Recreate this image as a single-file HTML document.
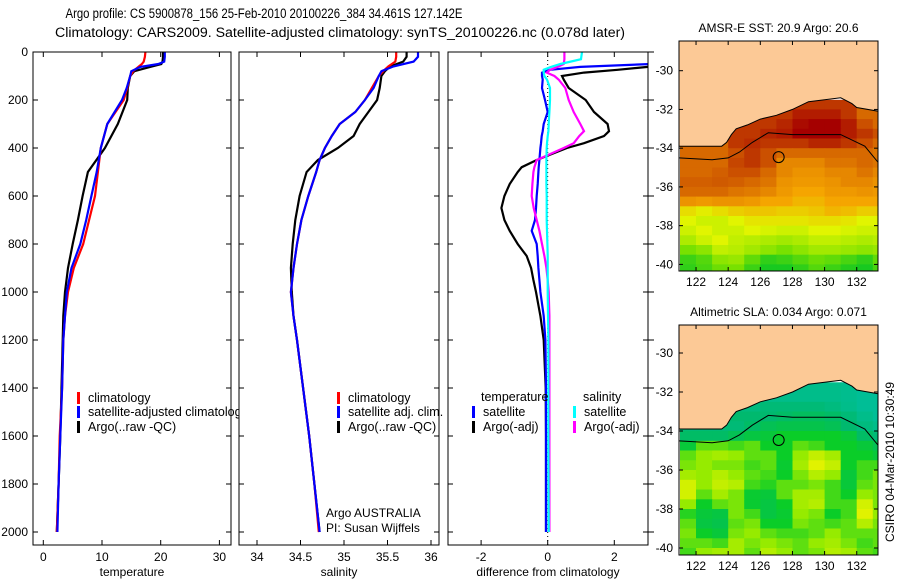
<!DOCTYPE html>
<html><head><meta charset="utf-8"><style>
body{margin:0;background:#fff;}
svg{display:block;font-family:"Liberation Sans",sans-serif;}
text{fill:#000;}
</style></head><body>
<svg id="c" width="900" height="580" viewBox="0 0 900 580" xmlns="http://www.w3.org/2000/svg">
<text x="264" y="18" font-size="13.5" textLength="397" lengthAdjust="spacingAndGlyphs" text-anchor="middle">Argo profile: CS 5900878_156 25-Feb-2010 20100226_384 34.461S 127.142E</text>
<text x="340" y="37" font-size="13.5" textLength="570" lengthAdjust="spacingAndGlyphs" text-anchor="middle">Climatology: CARS2009. Satellite-adjusted climatology: synTS_20100226.nc (0.078d later)</text>
<g id="g"></g>
</svg>
<script>
// ---------- data ----------
var tDepth=[0,20,40,50,62,80,100,150,200,300,400,500,600,700,800,900,1000,1100,1200,1400,1600,1800,2000];
var tClim =[17.4,17.3,17.1,16.8,16.2,15.3,14.8,14.3,13.7,10.9,9.8,9.3,8.8,7.8,6.8,5.2,4.2,3.7,3.4,3.2,2.8,2.6,2.3];
var tSat  =[20.7,20.7,20.6,19.6,16.5,15.0,14.8,14.2,13.4,10.9,9.8,9.1,8.2,7.3,6.3,4.8,4.0,3.7,3.4,3.2,2.9,2.6,2.4];
var tArgo =[20.4,20.4,20.3,20.1,18.2,15.5,14.8,14.4,14.3,12.7,10.5,7.6,6.7,5.9,5.0,4.2,3.7,3.4,3.3,3.1,2.9,2.6,2.3];
var sDepth=[0,20,40,60,80,100,150,200,250,300,350,400,450,500,600,700,800,900,1000,1100,1200,1400,1600,1800,2000];
var sClim =[35.60,35.60,35.59,35.51,35.45,35.40,35.32,35.24,35.13,34.95,34.86,34.78,34.72,34.68,34.59,34.51,34.46,34.42,34.39,34.42,34.46,34.53,34.60,34.66,34.71];
var sSat  =[35.85,35.85,35.80,35.57,35.43,35.40,35.34,35.24,35.13,34.95,34.86,34.78,34.72,34.68,34.59,34.51,34.46,34.42,34.39,34.42,34.46,34.53,34.60,34.66,34.72];
var sArgo =[35.72,35.72,35.68,35.53,35.47,35.43,35.41,35.38,35.28,35.18,35.11,34.93,34.70,34.57,34.49,34.44,34.41,34.39,34.40,34.42,34.46,34.53,34.60,34.66,34.72];
var dDepth=[0,30,50,62,74,86,100,115,150,200,250,300,330,350,380,400,450,480,500,550,600,650,700,745,800,850,900,950,1000,1100,1200,1400,1600,2000];
var dTSat =[3.4,3.4,3.1,0.98,0.07,-0.17,-0.17,-0.15,-0.17,-0.08,0,-0.12,-0.15,-0.18,-0.2,-0.22,-0.25,-0.27,-0.28,-0.3,-0.33,-0.35,-0.38,-0.48,-0.33,-0.3,-0.28,-0.25,-0.22,-0.12,-0.07,-0.05,-0.05,-0.05];
var dTArgo=[3.2,3.2,3.1,3.0,2.1,1.09,0.43,0.48,0.63,1.14,1.39,1.8,1.84,1.69,1.09,0.58,-0.33,-0.78,-0.9,-1.14,-1.3,-1.39,-1.3,-1.14,-0.9,-0.63,-0.5,-0.43,-0.35,-0.22,-0.12,-0.06,-0.05,-0.05];
var dSArgo=[0.5,0.5,0.48,0.3,0.07,-0.03,0.2,0.33,0.53,0.63,0.78,0.98,1.09,0.95,0.78,0.48,-0.33,-0.4,-0.43,-0.46,-0.48,-0.42,-0.33,-0.25,-0.17,-0.1,-0.04,0,0.03,0.05,0.05,0.05,0.05,0.05];
var dSSat =[1.03,1.0,0.38,0.1,-0.12,-0.12,-0.1,-0.02,0.07,0.07,0.05,0.03,0.02,0,-0.02,-0.03,-0.04,-0.04,-0.04,-0.04,-0.03,-0.03,-0.03,-0.02,-0.01,0,0,0,0,0.01,0.02,0.02,0.02,0.03];
var depthTicks=[0,200,400,600,800,1000,1200,1400,1600,1800,2000];
var tTicks=[0,10,20,30], sTicks=[34,34.5,35,35.5,36], dTicks=[-2,0,2];
var lonTicks=[122,124,126,128,130,132], latTicks=[-30,-32,-34,-36,-38,-40];
var gridLons=[121,122,123,124,125,126,127,128,129,130,131,132,133];
var gridLats=[-31.5,-32,-32.5,-33,-33.5,-34,-34.5,-35,-35.5,-36,-36.5,-37,-37.5,-38,-38.5,-39,-39.5,-40];
var sst=[
[22,22,22,22,22,22,22,22,22,22,22,21,21],
[22,22,22,22,22,22,22,22.5,22.5,22.5,22,21,21],
[22,22,22,22,22,22,22.3,22.8,23,23,22.5,21.5,21],
[21,21,21,22,22,22.3,22.5,23,23,23,22.5,22,21.5],
[21,21,21,22,22.2,22,22,22,22.3,22.3,22,21.5,21],
[21,21,21,21.5,22,21.5,21,21,21,21,21,21,20.8],
[21,21,21,21.7,22,21.5,20.5,20.5,20.5,20.8,20.8,21,20.8],
[21,21,21.2,21.5,21.5,21,20.5,20.3,20.3,20.5,20.5,20.8,20.5],
[21.2,21.2,21.3,21.2,21,20.8,20.3,20.2,20.2,20.3,20.5,20.5,20.3],
[21,21,21,20.8,20.7,20.5,20.2,20,20,20.2,20.2,20.3,20.2],
[20.3,20.2,20.3,20.3,20.2,20,20,19.8,19.8,20,20,20,20],
[19.3,19.1,19.3,19.5,19.6,19.6,19.5,19.5,19.6,19.8,19.7,19.5,19.5],
[19,18.8,18.8,19,19.2,19.2,19.2,19.2,19.3,19.3,19.2,19,19],
[18.8,19,18.8,18.8,19,18.9,18.8,18.8,19,19,18.9,18.8,18.8],
[18.5,18.8,19,18.7,18.6,18.5,18.4,18.5,18.7,18.7,18.6,18.5,18.6],
[18,18.2,18.7,18.6,18.4,18.2,18,18.2,18.4,18.4,18.3,18.2,18.3],
[17.5,17.7,18.2,18.3,17.8,17.4,17.5,17.7,17.9,17.8,17.6,17.4,17.8],
[17.4,17.6,17.9,18,17.5,17.2,17.2,17.4,17.7,17.5,17.3,17.2,17.6]];
var sla=[
[-0.15,-0.15,-0.15,-0.15,-0.15,-0.15,-0.15,-0.15,-0.15,-0.15,-0.16,-0.18,-0.18],
[-0.15,-0.15,-0.15,-0.15,-0.15,-0.15,-0.15,-0.15,-0.15,-0.15,-0.16,-0.18,-0.18],
[-0.12,-0.12,-0.12,-0.12,-0.12,-0.1,-0.1,-0.1,-0.1,-0.12,-0.15,-0.18,-0.18],
[-0.1,-0.1,-0.1,-0.08,-0.08,-0.08,-0.07,-0.06,-0.06,-0.07,-0.1,-0.15,-0.18],
[-0.1,-0.1,-0.1,-0.1,-0.07,-0.05,-0.04,-0.04,-0.04,-0.05,-0.08,-0.12,-0.15],
[-0.07,-0.07,-0.07,-0.05,-0.03,-0.02,0,0,0,0,-0.02,-0.07,-0.1],
[-0.02,0.03,0.03,0.02,0.03,0,0,0.03,0.02,0,0,-0.02,-0.05],
[0.03,0.05,0.06,0.05,0.03,0.03,0,0.05,0.08,0.06,0,0,-0.02],
[0.04,0.05,0.04,0.04,0.02,0.03,-0.01,0.06,0.1,0.08,0,0.02,0.02],
[0.06,0.05,0.07,0.05,0.03,0.02,0,0.04,0.07,0.05,-0.02,0.02,0.04],
[0.09,0.05,0.08,0.07,0.02,0.01,0.03,0.03,0.04,0.02,-0.02,0.03,0.04],
[0.09,0.03,0.06,0.04,-0.01,-0.02,0.03,0.06,0.06,0.02,0,0.05,0.04],
[0.05,0,0.03,0.04,-0.01,-0.03,0,0.06,0.07,0.02,0.02,0.09,0.04],
[0.01,-0.02,-0.03,0.04,0.02,-0.03,-0.01,0.05,0.04,0,0.02,0.1,0.05],
[0.03,-0.03,-0.04,0.03,0.04,0,0,0.04,0.03,0.02,0.03,0.07,0.04],
[0.04,0,-0.02,0.04,0.05,0.03,0.02,0.02,0.03,0.05,0.03,0.03,0.03],
[0.03,0.03,0.02,0.06,0.04,0.05,0.04,0.03,0.05,0.06,0.04,0.02,0.03],
[0.02,0.05,0.06,0.06,0.03,0.07,0.05,0.03,0.04,0.07,0.06,0.03,0.02]];
var coastLon=[120.9,123.6,123.9,124.2,124.5,125.2,126,127,128,129,130,131,131.7,132,133.4];
var coastLat=[-33.9,-33.9,-33.7,-33.3,-33.0,-32.8,-32.5,-32.3,-32.0,-31.6,-31.5,-31.4,-31.7,-31.9,-32.1];
var shelfLon=[120.9,123,124,124.7,125.5,126.5,128,131,132.5,133.4];
var shelfLat=[-34.5,-34.6,-34.5,-34.2,-33.7,-33.2,-33.3,-33.3,-33.9,-34.8];
var floatLon=127.142, floatLat=-34.461;

// ---------- helpers ----------
var NS="http://www.w3.org/2000/svg", G=document.getElementById('g');
function el(t,a,p){var e=document.createElementNS(NS,t);for(var k in a)e.setAttribute(k,a[k]);(p||G).appendChild(e);return e;}
function txt(x,y,s,fs,anchor,p){var e=el('text',{x:x,y:y,'font-size':fs,'text-anchor':anchor||'start'},p);e.textContent=s;return e;}
var yD=function(d){return 52+0.24*d;};
var xT=function(v){return 43.3+5.87*v;};
var xS=function(v){return 257+87*(v-34);};
var xDf=function(v){return 547.7+33.3*v;};
var panels=[{x0:33,x1:231,name:'temperature-panel'},{x0:239,x1:439,name:'salinity-panel'},{x0:448,x1:648,name:'difference-panel'}];
var yTop=52,yBot=545;

function clip(id,x,y,w,h){var c=el('clipPath',{id:id});el('rect',{x:x,y:y,width:w,height:h},c);}
function profile(xs,ds,xf,color,cp,name){
  var pts=[];for(var i=0;i<xs.length;i++)pts.push(xf(xs[i]).toFixed(1)+','+yD(ds[i]).toFixed(1));
  var p=el('polyline',{points:pts.join(' '),fill:'none',stroke:color,'stroke-width':2.2,'clip-path':'url(#'+cp+')'});
  
  
}
function frame(P,ticks,xf,label,cp){
  var g=el('g',{});
  
  
  el('rect',{x:P.x0,y:yTop,width:P.x1-P.x0,height:yBot-yTop,fill:'#fff'},g);
  clip(cp,P.x0,yTop,P.x1-P.x0,yBot-yTop);
  return g;
}
function axes(P,ticks,xf,label){
  el('rect',{x:P.x0,y:yTop,width:P.x1-P.x0,height:yBot-yTop,fill:'none',stroke:'#000','stroke-width':1});
  ticks.forEach(function(t){var x=xf(t);
    el('line',{x1:x,y1:yTop,x2:x,y2:yTop+5,stroke:'#000'});
    el('line',{x1:x,y1:yBot,x2:x,y2:yBot-5,stroke:'#000'});
    var tl=txt(x,561,String(t),12,'middle');
    
    
  });
  depthTicks.forEach(function(d){var y=yD(d);
    el('line',{x1:P.x0,y1:y,x2:P.x0+5,y2:y,stroke:'#000'});
    el('line',{x1:P.x1,y1:y,x2:P.x1-5,y2:y,stroke:'#000'});
  });
  var xl=txt((P.x0+P.x1)/2,576,label,12,'middle');
  
  
}
function legend(x,y,color,label,name){
  var r=el('rect',{x:x,y:y-10,width:3,height:12,fill:color});
  
  
  var t=txt(x+11,y,label,12.5);
  
  
}

// panel 1
frame(panels[0],tTicks,xT,'temperature','cp1');
profile(tArgo,tDepth,xT,'#000','cp1','temp-argo-line');
profile(tClim,tDepth,xT,'#f00','cp1','temp-climatology-line');
profile(tSat,tDepth,xT,'#00f','cp1','temp-satellite-line');
legend(77,402,'#f00','climatology','legend-climatology');
legend(77,416,'#00f','satellite-adjusted climatology','legend-satellite-adjusted');
legend(77,431,'#000','Argo(..raw -QC)','legend-argo');
depthTicks.forEach(function(d){var t=txt(28,yD(d)+4,String(d),12,'end');
  
  });
// panel 2 (covers overflow of legend)
frame(panels[1],sTicks,xS,'salinity','cp2');
axes(panels[0],tTicks,xT,'temperature');
profile(sArgo,sDepth,xS,'#000','cp2','sal-argo-line');
profile(sClim,sDepth,xS,'#f00','cp2','sal-climatology-line');
profile(sSat,sDepth,xS,'#00f','cp2','sal-satellite-line');
legend(337,402,'#f00','climatology','legend2-climatology');
legend(337,416,'#00f','satellite adj. clim.','legend2-satellite');
legend(337,431,'#000','Argo(..raw -QC)','legend2-argo');
var a1=txt(326,517,'Argo AUSTRALIA',12);
var a2=txt(326,532,'PI: Susan Wijffels',12);
axes(panels[1],sTicks,xS,'salinity');
// panel 3
frame(panels[2],dTicks,xDf,'difference from climatology','cp3');
var zl=el('line',{x1:xDf(0),y1:yTop,x2:xDf(0),y2:yBot,stroke:'#000','stroke-dasharray':'1,3'});

profile(dTArgo,dDepth,xDf,'#000','cp3','diff-temp-argo-line');
profile(dTSat,dDepth,xDf,'#00f','cp3','diff-temp-satellite-line');
profile(dSArgo,dDepth,xDf,'#f0f','cp3','diff-sal-argo-line');
profile(dSSat,dDepth,xDf,'#0ff','cp3','diff-sal-satellite-line');
var lt=txt(481,401,'temperature',12.5);
var ls=txt(583,401,'salinity',12.5);
legend(472,416,'#00f','satellite','legend3-temp-satellite');
legend(472,431,'#000','Argo(-adj)','legend3-temp-argo');
legend(573,416,'#0ff','satellite','legend3-sal-satellite');
legend(573,431,'#f0f','Argo(-adj)','legend3-sal-argo');
axes(panels[2],dTicks,xDf,'difference from climatology');
depthTicks.forEach(function(d){el('line',{x1:648,y1:yD(d),x2:654,y2:yD(d),stroke:'#000'});});

// ---------- maps ----------
function interp(stops,v){
  if(v<=stops[0][0])return stops[0][1];
  for(var i=1;i<stops.length;i++){if(v<=stops[i][0]){var a=stops[i-1],b=stops[i],f=(v-a[0])/(b[0]-a[0]);
    return 'rgb('+[0,1,2].map(function(k){return Math.round(a[1][k]+(b[1][k]-a[1][k])*f);}).join(',')+')';}}
  return stops[stops.length-1][1];
}
function rgbOf(stops,v){var c=interp(stops,v);return typeof c==='string'?c:'rgb('+c.join(',')+')';}
var sstStops=[[17,[0,195,40]],[18,[120,225,0]],[19,[225,245,0]],[20,[245,165,0]],[21,[215,105,0]],[22,[190,55,0]],[23,[165,0,0]]];
var slaStops=[[-0.18,[0,190,150]],[-0.08,[0,185,110]],[0,[10,205,40]],[0.05,[150,235,0]],[0.1,[225,242,0]]];
function drawMap(M,grid,stops,title,name){
  var xL=function(lon){return M.x0+(lon-M.lon0)*M.kx;};
  var yL=function(lat){return M.yRef-(lat-(-30))*M.ky;};
  var g=el('g',{});
  
  
  var cid=name+'-clip';clip(cid,M.x0,M.y0,M.x1-M.x0,M.y1-M.y0);
  var inner=el('g',{'clip-path':'url(#'+cid+')'},g);
  for(var r=0;r<gridLats.length;r++)for(var c=0;c<gridLons.length;c++){
    var x=xL(gridLons[c]),y=yL(gridLats[r]);
    var cell=el('rect',{x:x.toFixed(1),y:y.toFixed(1),width:(M.kx+0.6).toFixed(1),height:(M.ky/2+0.6).toFixed(1),fill:rgbOf(stops,grid[r][c])},inner);
    
    
  }
  var lp=[];for(var i=0;i<coastLon.length;i++)lp.push(xL(coastLon[i]).toFixed(1)+','+yL(coastLat[i]).toFixed(1));
  lp.push((M.x1+2)+','+yL(coastLat[coastLat.length-1]).toFixed(1));lp.push((M.x1+2)+','+(M.y0-2));lp.push((M.x0-2)+','+(M.y0-2));
  var land=el('polygon',{points:lp.join(' '),fill:'#fcc996',stroke:'#000','stroke-width':1},inner);
  
  var sp=[];for(var j=0;j<shelfLon.length;j++)sp.push(xL(shelfLon[j]).toFixed(1)+','+yL(shelfLat[j]).toFixed(1));
  var sh=el('polyline',{points:sp.join(' '),fill:'none',stroke:'#000','stroke-width':1},inner);
  
  var fc=el('circle',{cx:xL(floatLon),cy:yL(floatLat),r:5.5,fill:'none',stroke:'#000','stroke-width':1},inner);
  
  el('rect',{x:M.x0,y:M.y0,width:M.x1-M.x0,height:M.y1-M.y0,fill:'none',stroke:'#000'},g);
  lonTicks.forEach(function(l){var x=xL(l);el('line',{x1:x,y1:M.y0,x2:x,y2:M.y0+4,stroke:'#000'},g);el('line',{x1:x,y1:M.y1,x2:x,y2:M.y1-4,stroke:'#000'},g);
    var t=txt(x,M.y1+15,String(l),12,'middle',g);});
  latTicks.forEach(function(l){var y=yL(l);el('line',{x1:M.x0,y1:y,x2:M.x0+4,y2:y,stroke:'#000'},g);el('line',{x1:M.x1,y1:y,x2:M.x1-4,y2:y,stroke:'#000'},g);
    var t=txt(M.x0-6,y+4,String(l),12,'end',g);});
  var tt=txt((M.x0+M.x1)/2,M.y0-9,title,12,'middle',g);
}
drawMap({x0:679,x1:878,y0:41,y1:271,lon0:120.94,kx:16.07,yRef:70.7,ky:19.37},sst,sstStops,'AMSR-E SST: 20.9 Argo: 20.6','sst-map');
drawMap({x0:679,x1:878,y0:325,y1:555,lon0:120.94,kx:16.07,yRef:353,ky:19.5},sla,slaStops,'Altimetric SLA: 0.034 Argo: 0.071','sla-map');
var ts=txt(0,0,'CSIRO 04-Mar-2010 10:30:49',12,'middle');
ts.setAttribute('transform','translate(894,462) rotate(-90)');


</script>
</body></html>
